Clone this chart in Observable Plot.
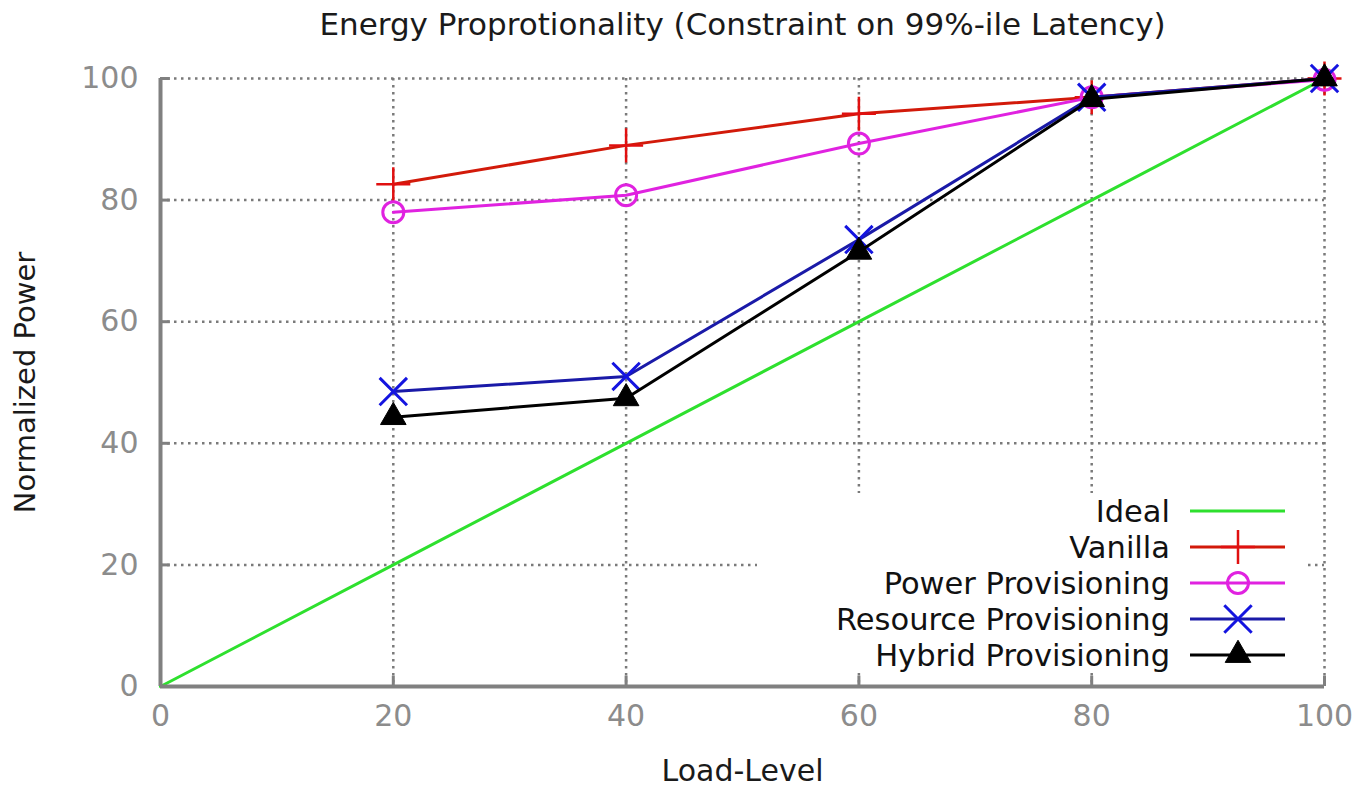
<!DOCTYPE html>
<html><head><meta charset="utf-8">
<script src="https://cdn.jsdelivr.net/npm/d3@7"></script>
<script src="https://cdn.jsdelivr.net/npm/@observablehq/plot@0.6"></script>
<style>
body{margin:0;background:#fff;}
#wrap{position:relative;width:1363px;height:788px;font-family:"DejaVu Sans";}
</style></head><body><div id="wrap"></div>
<script>
const titleText = "Energy Proprotionality (Constraint on 99%-ile Latency)";
const xLabel = "Load-Level";
const yLabel = "Normalized Power";
const loadLevels = [20, 40, 60, 80, 100];
const idealLoad = [0, 20, 40, 60, 80, 100];
const idealPower = [0, 20, 40, 60, 80, 100];
const vanilla = [82.6, 89.0, 94.2, 96.9, 100];
const powerProvisioning = [78.0, 80.8, 89.3, 96.9, 99.8];
const resourceProvisioning = [48.5, 51.0, 73.5, 96.9, 100];
const hybridProvisioning = [44.3, 47.4, 71.5, 96.6, 100];
const xTicks = [0, 20, 40, 60, 80, 100];
const yTicks = [0, 20, 40, 60, 80, 100];
const seriesNames = ["Ideal", "Vanilla", "Power Provisioning", "Resource Provisioning", "Hybrid Provisioning"];

const series = [
  {name: seriesNames[1], values: vanilla, line: "#d21a0a", mark: "#e01010", symbol: "plus", r: 11, fill: "none", sw: 2.5},
  {name: seriesNames[2], values: powerProvisioning, line: "#e022e0", mark: "#e022e0", symbol: "circle", r: 10.5, fill: "none", sw: 3},
  {name: seriesNames[3], values: resourceProvisioning, line: "#1a1aa8", mark: "#1414e0", symbol: "times", r: 12.5, fill: "none", sw: 3},
  {name: seriesNames[4], values: hybridProvisioning, line: "#000000", mark: "#000000", symbol: "triangle", r: 9.5, fill: "#000000", sw: 1}
];
const ideal = idealLoad.map((x, i) => ({x, y: idealPower[i]}));

const grid = {stroke: "#7a7a7a", strokeOpacity: 1, strokeWidth: 2.5, strokeDasharray: "2.5,4.5"};
const marks = [
  Plot.gridX(xTicks.slice(1), grid),
  Plot.gridY(yTicks.slice(1), grid),
  Plot.axisX({ticks: xTicks, tickSize: 0, tickPadding: 18, label: null, fill: "#8c8c8c", fontSize: 30}),
  Plot.axisY({ticks: yTicks, tickSize: 0, tickPadding: 22, label: null, fill: "#8c8c8c", fontSize: 30}),
  Plot.ruleX(xTicks.slice(1), {x: d => d, y1: 0, y2: 1.7, stroke: "#808080", strokeWidth: 3}),
  Plot.ruleY(yTicks.slice(1), {y: d => d, x1: 0, x2: 0.85, stroke: "#808080", strokeWidth: 3}),
  Plot.line(ideal, {x: "x", y: "y", stroke: "#2ee02e", strokeWidth: 3}),
];
for (const s of series) {
  const rows = loadLevels.map((x, i) => ({x, y: s.values[i]}));
  marks.push(Plot.line(rows, {x: "x", y: "y", stroke: s.line, strokeWidth: 3}));
  marks.push(Plot.dot(rows, {x: "x", y: "y", symbol: s.symbol, r: s.r, stroke: s.mark, fill: s.fill, strokeWidth: s.sw}));
}
marks.push(
  Plot.ruleX([0], {stroke: "#808080", strokeWidth: 4}),
  Plot.ruleY([0], {stroke: "#808080", strokeWidth: 4}),
  Plot.text([titleText], {frameAnchor: "top", dy: -44, lineAnchor: "bottom", fontSize: 31, fill: "#1a1a1a"}),
  Plot.text([xLabel], {frameAnchor: "bottom", dy: 94, lineAnchor: "bottom", fontSize: 30, fill: "#1a1a1a"}),
  Plot.text([yLabel], {frameAnchor: "left", dx: -146, rotate: -90, lineAnchor: "top", textAnchor: "middle", fontSize: 29, fill: "#1a1a1a"})
);

const chart = Plot.plot({
  width: 1363, height: 788,
  marginLeft: 160, marginRight: 39, marginTop: 78, marginBottom: 102,
  style: {fontFamily: "DejaVu Sans", fontSize: "30px", background: "#fff", overflow: "visible"},
  x: {domain: [0, 100]},
  y: {domain: [0, 100]},
  marks
});
document.getElementById("wrap").appendChild(chart);

// Legend
const legendItems = [
  {name: seriesNames[0], line: "#2ee02e", mark: null},
  ...series.map(s => ({name: s.name, line: s.line, mark: s.mark, symbol: s.symbol, r: s.r, fill: s.fill, sw: s.sw}))
];
const symbolMap = {plus: d3.symbolPlus, circle: d3.symbolCircle, times: d3.symbolTimes, triangle: d3.symbolTriangle};
const leg = d3.select("#wrap").append("svg")
  .attr("width", 548).attr("height", 180)
  .style("position", "absolute").style("left", "757px").style("top", "493px")
  .style("background", "#fff");
legendItems.forEach((it, i) => {
  const cy = 18 + i * 36;
  leg.append("text").attr("x", 413).attr("y", cy).attr("text-anchor", "end")
    .attr("dominant-baseline", "central").attr("font-family", "DejaVu Sans").attr("font-size", 30.5)
    .attr("fill", "#111").text(it.name);
  leg.append("line").attr("x1", 433).attr("x2", 528).attr("y1", cy).attr("y2", cy)
    .attr("stroke", it.line).attr("stroke-width", 3);
  if (it.mark) {
    leg.append("path").attr("transform", `translate(481,${cy})`)
      .attr("d", d3.symbol(symbolMap[it.symbol], Math.PI * it.r * it.r)())
      .attr("stroke", it.mark).attr("fill", it.fill).attr("stroke-width", it.sw);
  }
});
</script></body></html>
